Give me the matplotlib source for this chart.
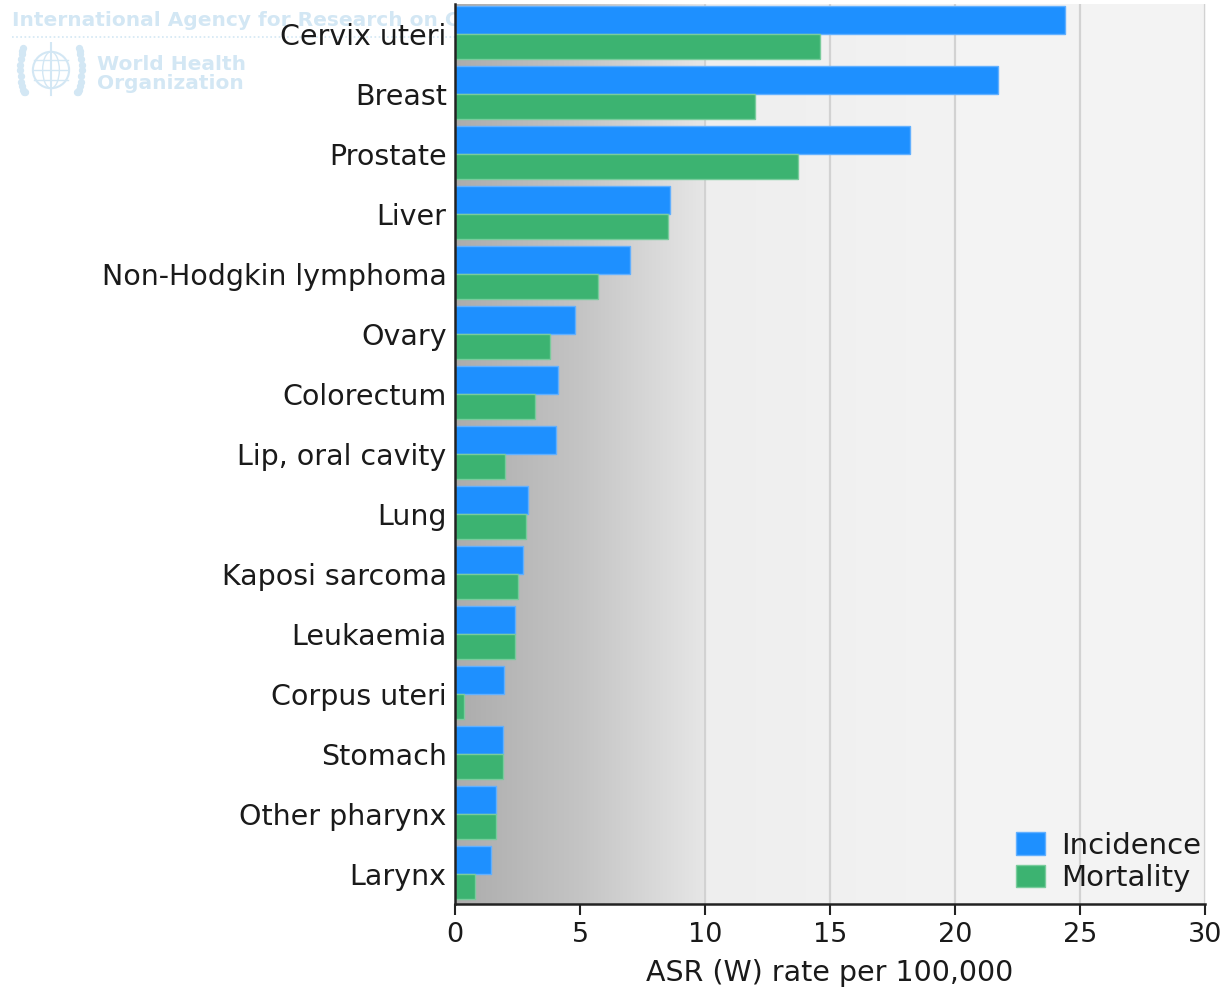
import numpy as np
import matplotlib
matplotlib.use("Agg")
import matplotlib.pyplot as plt
from matplotlib.colors import LinearSegmentedColormap
from matplotlib.patches import Patch, Ellipse

categories = ["Cervix uteri", "Breast", "Prostate", "Liver", "Non-Hodgkin lymphoma",
              "Ovary", "Colorectum", "Lip, oral cavity", "Lung", "Kaposi sarcoma",
              "Leukaemia", "Corpus uteri", "Stomach", "Other pharynx", "Larynx"]
incidence = [24.4, 21.7, 18.2, 8.6, 7.0, 4.8, 4.1, 4.05, 2.9, 2.7, 2.4, 1.95, 1.9, 1.65, 1.45]
mortality = [14.6, 12.0, 13.7, 8.5, 5.7, 3.8, 3.2, 2.0, 2.85, 2.5, 2.4, 0.35, 1.9, 1.65, 0.8]
xticks = [0, 5, 10, 15, 20, 25, 30]
series_names = ["Incidence", "Mortality"]

BLUE = "#1e90ff"
GREEN = "#3cb371"
W, H = 1228, 988

fig = plt.figure(figsize=(W / 100, H / 100), dpi=100)
fig.patch.set_facecolor("white")

# watermark (behind axes)
wm = "#d3e7f4"
fig.text(12 / W, 1 - 26 / H, "International Agency for Research on Cancer",
         fontsize=14.5, fontweight="bold", color=wm, zorder=-2, va="baseline")
fig.add_artist(plt.Line2D([12 / W, 455 / W], [1 - 37 / H, 1 - 37 / H],
                          transform=fig.transFigure, color=wm, lw=1.2,
                          linestyle=(0, (1, 1.5)), zorder=-2))
fig.text(97 / W, 1 - 70 / H, "World Health", fontsize=14.5, fontweight="bold",
         color=wm, zorder=-2, va="baseline")
fig.text(97 / W, 1 - 89 / H, "Organization", fontsize=14.5, fontweight="bold",
         color=wm, zorder=-2, va="baseline")
logo = fig.add_axes([12 / W, 1 - 98 / H, 78 / W, 56 / H], zorder=-3)
logo.set_xlim(-1.4, 1.4)
logo.set_ylim(-1.0, 1.0)
logo.axis("off")
logo.add_patch(Ellipse((0, 0), 1.3, 1.3, fill=False, ec=wm, lw=1.5))
logo.add_patch(Ellipse((0, 0), 0.6, 1.3, fill=False, ec=wm, lw=1.0))
for yy in (-0.35, 0, 0.35):
    logo.plot([-0.62, 0.62], [yy, yy], color=wm, lw=1.0)
logo.plot([0, 0], [-0.9, 0.95], color=wm, lw=1.5)
for s in (-1, 1):
    th = np.linspace(-1.6, 1.3, 12)
    logo.scatter(s * (0.95 + 0.15 * np.cos(th)), 0.8 * np.sin(th), s=18, color=wm, marker="o")

ax = fig.add_axes([455 / W, 1 - 904 / H, 750 / W, 900 / H])
ax.set_facecolor("white")

# background gradients
cm1 = LinearSegmentedColormap.from_list("g1", ["#acacac", "#c4c4c4", "#e6e6e6"])
cm2 = LinearSegmentedColormap.from_list("g2", ["#eeeeee", "#f3f3f3", "#f4f4f4"])
grad = np.linspace(0, 1, 256).reshape(1, -1)
n = len(categories)
ax.imshow(grad, cmap=cm1, extent=(0, 9.95, n - 0.5, -0.5), aspect="auto",
          zorder=0.7, interpolation="bicubic")
ax.imshow(grad, cmap=cm2, extent=(10, 30, n - 0.5, -0.5), aspect="auto",
          zorder=0.2, interpolation="bicubic")

y = np.arange(n)
ax.barh(y - 0.235, incidence, height=0.47, color=BLUE, edgecolor="#62b0ff",
        linewidth=1.0, zorder=2, label=series_names[0])
ax.barh(y + 0.21, mortality, height=0.42, color=GREEN, edgecolor="#79cc9c",
        linewidth=1.0, zorder=2, label=series_names[1])

ax.set_xlim(0, 30)
ax.set_ylim(n - 0.5, -0.5)
ax.set_xticks(xticks)
ax.set_xticklabels([str(t) for t in xticks])
ax.set_yticks(y)
ax.set_yticklabels(categories)

ax.set_axisbelow(True)
ax.grid(axis="x", color="#d2d2d2", linewidth=1.6)
ax.grid(axis="y", visible=False)

for s in ("top", "right"):
    ax.spines[s].set_visible(False)
for s in ("left", "bottom"):
    ax.spines[s].set_color("#222222")
    ax.spines[s].set_linewidth(1.8)
    ax.spines[s].set_zorder(3)

ax.tick_params(axis="y", length=0, pad=6, labelsize=20.5, labelcolor="#1a1a1a")
ax.tick_params(axis="x", length=8, width=1.5, color="#222222", pad=5,
               labelsize=19.5, labelcolor="#1a1a1a", direction="out")

ax.set_xlabel("ASR (W) rate per 100,000", fontsize=20.5, color="#1a1a1a", labelpad=8)

handles = [Patch(facecolor=BLUE, edgecolor="#62b0ff"),
           Patch(facecolor=GREEN, edgecolor="#79cc9c")]
leg = fig.legend(handles, series_names, loc="lower right",
                 bbox_to_anchor=(1201 / W, 1 - 892 / H), bbox_transform=fig.transFigure,
                 frameon=False, fontsize=21, handlelength=1.0, handleheight=0.8,
                 handletextpad=0.55, labelspacing=0.15, borderpad=0, borderaxespad=0)
for t in leg.get_texts():
    t.set_color("#1a1a1a")

fig.savefig("out.png", dpi=100)
